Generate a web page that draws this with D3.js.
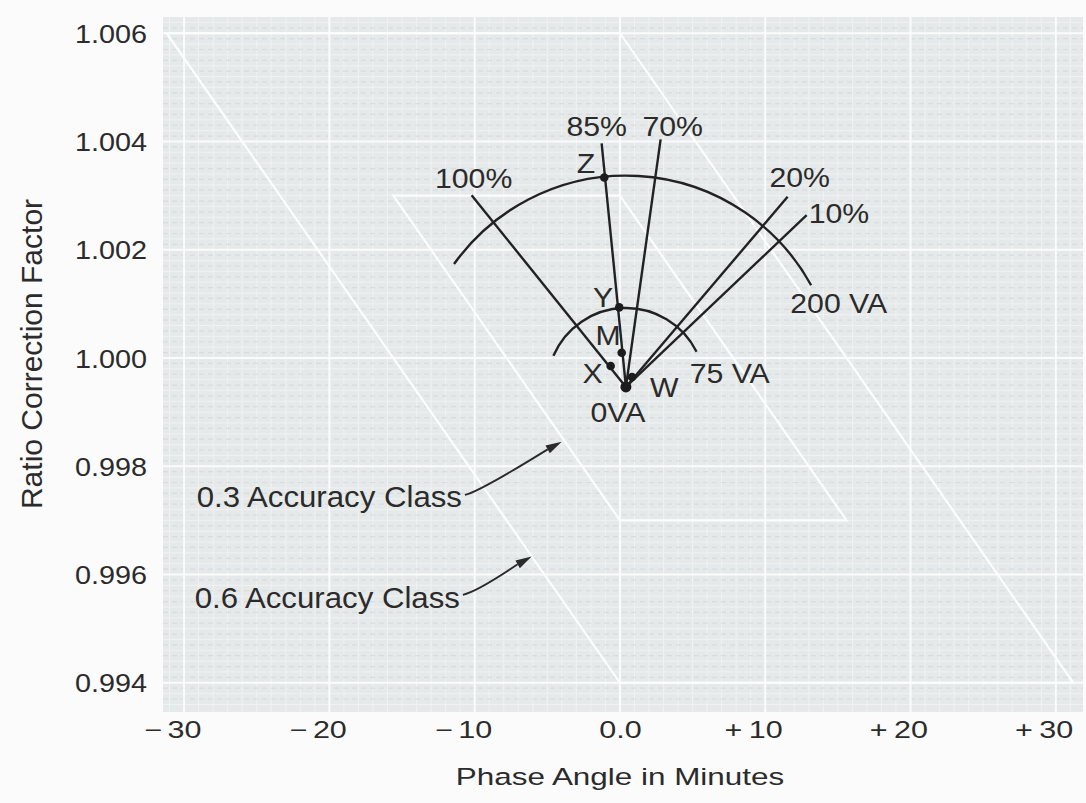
<!DOCTYPE html>
<html>
<head>
<meta charset="utf-8">
<script src="https://cdn.jsdelivr.net/npm/d3@7"></script>
<style>
  body { margin: 0; background: #fbfbfb; }
  svg text { font-family: "Liberation Sans", Arial, Helvetica, sans-serif; fill: #2b2b2b; }
</style>
</head>
<body>
<svg id="chart" width="1086" height="803"></svg>
<script>
// axis ticks
var aPhaseTicks = [-30, -20, -10, 0, 10, 20, 30];
var aRcfTicks = [0.994, 0.996, 0.998, 1.000, 1.002, 1.004, 1.006];

// 0 VA point (phase angle in minutes, RCF)
var aZeroPoint = [0.41, 0.999465];

// power factor lines, drawn from the 0 VA point to their end
var aPfNames = ["100%", "85%", "70%", "20%", "10%"];
var aPfEndPhase = [-10.21, -1.26, 2.80, 11.54, 12.85];
var aPfEndRcf = [1.003009, 1.003964, 1.004038, 1.002978, 1.002640];

// standard burden points
var aPointNames = ["Z", "Y", "M", "X", "W"];
var aPointPhase = [-1.08, -0.05, 0.12, -0.64, 0.83];
var aPointRcf = [1.003336, 1.000936, 1.000098, 0.999852, 0.999649];

// burden arcs round the 0 VA point
var aBurdenNames = ["200 VA", "75 VA"];
var aBurdenStart = [[-11.42, 1.001736], [-4.58, 1.000041]];
var aBurdenEnd = [[13.17, 1.001346], [5.28, 1.000116]];

// accuracy class parallelograms: phase limit (min) and RCF half width
var aClassNames = ["0.3 Accuracy Class", "0.6 Accuracy Class"];
var aClassPhase = [15.6, 31.2];
var aClassRcf = [0.003, 0.006];
var aClassArrowTail = [[-10.67, 0.997471], [-10.81, 0.995625]];
var aClassArrowTip = [[-4.01, 0.998455], [-6.08, 0.996332]];

var oMargin = { top: 17, right: 3, bottom: 91, left: 163 };
var iWidth = 1086, iHeight = 803;

var oSvg = d3.select("#chart");

var oScaleX = d3.scaleLinear()
  .domain([-31.45, 31.87])
  .range([oMargin.left, iWidth - oMargin.right]);

var oScaleY = d3.scaleLinear()
  .domain([0.99346, 1.0063])
  .range([iHeight - oMargin.bottom, oMargin.top]);

function label(x, y, sText, iSize, fStretch, sAnchor) {
  return oSvg.append("text")
    .attr("transform", "translate(" + x + "," + y + ") scale(" + fStretch + ",1)")
    .attr("text-anchor", sAnchor)
    .style("font-size", iSize + "px")
    .text(sText);
}

// graph paper
var x0 = oScaleX.range()[0], x1 = oScaleX.range()[1];
var y0 = oScaleY.range()[1], y1 = oScaleY.range()[0];
oSvg.append("rect")
  .attr("x", x0).attr("y", y0)
  .attr("width", x1 - x0).attr("height", y1 - y0)
  .attr("fill", "#e6e9e9");

var oPaper = oSvg.append("g").attr("stroke", "#f0f2f2").attr("stroke-width", 1);
d3.range(-31, 32, 1).forEach(function (v) {
  oPaper.append("line").attr("x1", oScaleX(v)).attr("x2", oScaleX(v)).attr("y1", y0).attr("y2", y1);
});
d3.range(0.9936, 1.0063, 0.0002).forEach(function (v) {
  oPaper.append("line").attr("y1", oScaleY(v)).attr("y2", oScaleY(v)).attr("x1", x0).attr("x2", x1);
});
var oDash = oSvg.append("g").attr("stroke", "#d8dcdd").attr("stroke-width", 1.2).attr("stroke-dasharray", "5,4");
d3.range(0.9937, 1.0063, 0.0002).forEach(function (v) {
  oDash.append("line").attr("y1", oScaleY(v)).attr("y2", oScaleY(v)).attr("x1", x0).attr("x2", x1);
});

// major grid
var oGrid = oSvg.append("g").attr("stroke", "#fafbfb").attr("stroke-width", 2);
aPhaseTicks.forEach(function (v) {
  oGrid.append("line").attr("x1", oScaleX(v)).attr("x2", oScaleX(v)).attr("y1", y0).attr("y2", y1);
});
aRcfTicks.forEach(function (v) {
  oGrid.append("line").attr("y1", oScaleY(v)).attr("y2", oScaleY(v)).attr("x1", x0).attr("x2", x1);
});

// accuracy class parallelograms
var oLine = d3.line()
  .x(function (d) { return oScaleX(d[0]); })
  .y(function (d) { return oScaleY(d[1]); });

aClassPhase.forEach(function (p, i) {
  var r = aClassRcf[i];
  oSvg.append("path")
    .attr("d", oLine([[-p, 1 + r], [0, 1 + r], [p, 1 - r], [0, 1 - r]]) + "Z")
    .attr("fill", "none")
    .attr("stroke", "#fcfdfd")
    .attr("stroke-width", 2.2);
});

// axes
var oXAxis = oSvg.append("g")
  .attr("transform", "translate(0," + y1 + ")")
  .call(d3.axisBottom(oScaleX).tickValues(aPhaseTicks).tickSize(0)
    .tickFormat(function (d) { return d === 0 ? "0.0" : String(Math.abs(d)); }));
oXAxis.select(".domain").remove();
oXAxis.selectAll(".tick").each(function (d) {
  var oTick = d3.select(this);
  var oText = oTick.select("text")
    .attr("y", 0).attr("dy", 0)
    .attr("transform", "translate(0,26) scale(1.31,1)")
    .style("font-size", "23.3px")
    .attr("fill", null);
  if (d !== 0) {
    var fLen = oText.node().getComputedTextLength();
    oTick.append("text")
      .attr("transform", "translate(0,26) scale(1.31,1)")
      .attr("x", -fLen / 2 - (d < 0 ? 4 : 5))
      .attr("text-anchor", "end")
      .style("font-size", "23.3px")
      .text(d < 0 ? "\u2212" : "+");
  }
});

var oYAxis = oSvg.append("g")
  .attr("transform", "translate(" + x0 + ",0)")
  .call(d3.axisLeft(oScaleY).tickValues(aRcfTicks).tickSize(0).tickFormat(d3.format(".3f")));
oYAxis.select(".domain").remove();
oYAxis.selectAll(".tick text")
  .attr("x", 0).attr("dy", "0.36em")
  .attr("transform", "translate(-16,0) scale(1.13,1)")
  .style("font-size", "25.5px")
  .attr("fill", null);

label(620, 785, "Phase Angle in Minutes", 23.3, 1.35, "middle");
oSvg.append("text")
  .attr("transform", "translate(42,354) rotate(-90)")
  .attr("text-anchor", "middle")
  .style("font-size", "30px")
  .text("Ratio Correction Factor");

// burden diagram
var cx = oScaleX(aZeroPoint[0]), cy = oScaleY(aZeroPoint[1]);
var oDiagram = oSvg.append("g")
  .attr("fill", "none")
  .attr("stroke", "#222")
  .attr("stroke-width", 2.4);

aPfNames.forEach(function (sName, i) {
  var ex = oScaleX(aPfEndPhase[i]), ey = oScaleY(aPfEndRcf[i]);
  oDiagram.append("line")
    .attr("x1", cx).attr("y1", cy)
    .attr("x2", ex).attr("y2", ey);
});

aBurdenNames.forEach(function (sName, i) {
  var sx = oScaleX(aBurdenStart[i][0]), sy = oScaleY(aBurdenStart[i][1]);
  var ex = oScaleX(aBurdenEnd[i][0]), ey = oScaleY(aBurdenEnd[i][1]);
  var r = Math.hypot(sx - cx, sy - cy);
  var oPath = d3.path();
  oPath.arc(cx, cy, r, Math.atan2(sy - cy, sx - cx), Math.atan2(ey - cy, ex - cx), false);
  oDiagram.append("path").attr("d", oPath.toString());
});

var oDots = oSvg.append("g").attr("fill", "#1c1c1c");
aPointNames.forEach(function (sName, i) {
  oDots.append("circle")
    .attr("cx", oScaleX(aPointPhase[i]))
    .attr("cy", oScaleY(aPointRcf[i]))
    .attr("r", 4.3);
});
oDots.append("circle").attr("cx", cx).attr("cy", cy).attr("r", 5.5);

// labels of the diagram
var aPfOffsets = [[2, -7, "middle"], [-5, -7, "middle"], [12, -3, "middle"], [12, -10, "middle"], [2, 8, "start"]];
aPfNames.forEach(function (sName, i) {
  var o = aPfOffsets[i];
  label(oScaleX(aPfEndPhase[i]) + o[0], oScaleY(aPfEndRcf[i]) + o[1], sName, 28, 1.08, o[2]);
});

var aPointOffsets = [[-9, -4, "end"], [-6, 0, "end"], [-1, -8, "end"], [-8, 17, "end"], [18, 20, "start"]];
aPointNames.forEach(function (sName, i) {
  var o = aPointOffsets[i];
  label(oScaleX(aPointPhase[i]) + o[0], oScaleY(aPointRcf[i]) + o[1], sName, 28, 1.08, o[2]);
});
label(cx - 8, cy + 35, "0VA", 28, 1.08, "middle");

var aBurdenOffsets = [[-21, 28], [-7, 31]];
aBurdenNames.forEach(function (sName, i) {
  label(oScaleX(aBurdenEnd[i][0]) + aBurdenOffsets[i][0], oScaleY(aBurdenEnd[i][1]) + aBurdenOffsets[i][1], sName, 28, 1.08, "start");
});

// accuracy class notes with arrows
aClassNames.forEach(function (sName, i) {
  var tx = oScaleX(aClassArrowTail[i][0]), ty = oScaleY(aClassArrowTail[i][1]);
  var hx = oScaleX(aClassArrowTip[i][0]), hy = oScaleY(aClassArrowTip[i][1]);
  var a = Math.atan2(hy - ty, hx - tx);
  var iLen = 16, iHalf = 4.5;
  var bx = hx - iLen * Math.cos(a), by = hy - iLen * Math.sin(a);
  var oPath = d3.path();
  oPath.moveTo(tx, ty);
  oPath.quadraticCurveTo(tx + 14, ty - 3, bx, by);
  oSvg.append("path").attr("d", oPath.toString())
    .attr("fill", "none").attr("stroke", "#2a2a2a").attr("stroke-width", 1.9);
  oSvg.append("path")
    .attr("d", "M" + hx + "," + hy +
      "L" + (bx + iHalf * Math.sin(a)) + "," + (by - iHalf * Math.cos(a)) +
      "L" + (bx - iHalf * Math.sin(a)) + "," + (by + iHalf * Math.cos(a)) + "Z")
    .attr("fill", "#2a2a2a");
  label(tx - 3, ty + 12 + i, sName, 30, 1.04, "end");
});
</script>
</body>
</html>
